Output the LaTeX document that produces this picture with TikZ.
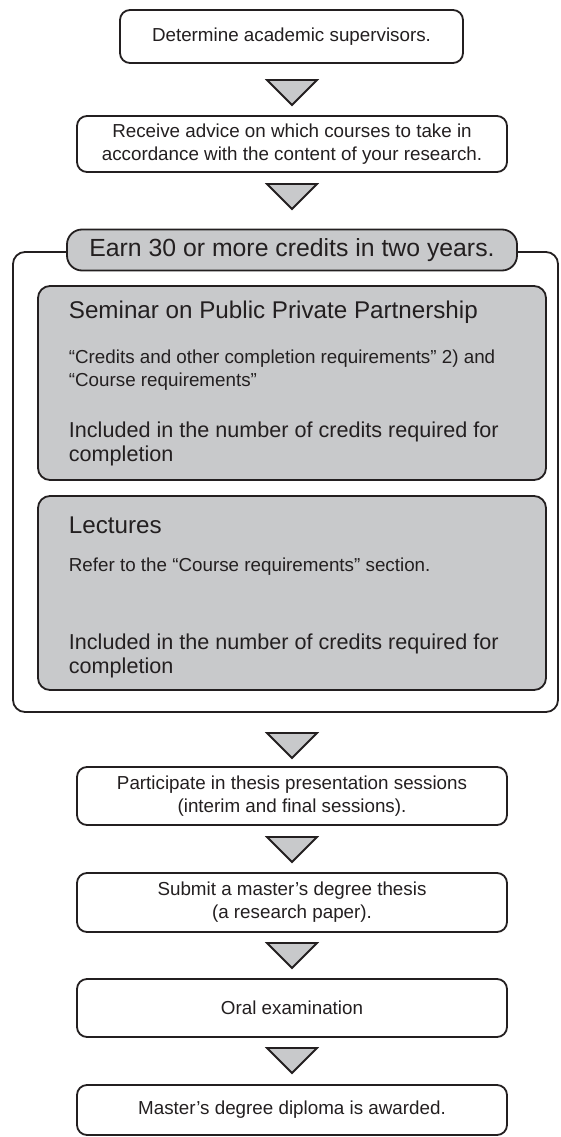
\documentclass[tikz,border=0pt]{standalone}
\usepackage{fontspec}
\setmainfont{Liberation Sans}
\usetikzlibrary{positioning}
\definecolor{boxgray}{HTML}{C8C9CB}
\definecolor{ink}{HTML}{231F20}

\begin{document}
\begin{tikzpicture}[x=1pt,y=-1pt,line width=1.8pt,draw=ink,text=ink]
\tikzstyle{stage}=[draw,rounded corners=10pt,fill=white,minimum width=430pt,minimum height=58pt,align=center,font=\fontsize{18.8}{23}\selectfont]
\tikzstyle{block}=[draw,rounded corners=12pt,fill=boxgray,minimum width=508pt,minimum height=194pt]
\tikzstyle{head}=[anchor=base west,inner sep=0pt,font=\fontsize{24.2}{27}\selectfont]
\tikzstyle{note}=[anchor=base west,inner sep=0pt,align=left,font=\fontsize{18.8}{23}\selectfont]
\tikzstyle{sum}=[anchor=base west,inner sep=0pt,align=left,font=\fontsize{21.6}{24.5}\selectfont]
\tikzstyle{tri}=[draw,fill=boxgray,line join=miter]
\useasboundingbox (0,0) rectangle (560,1137);

% top steps
\node [stage,minimum width=343pt,minimum height=53pt] (supervisors) at (291.5,36.5) {Determine academic supervisors.};
\node [stage,minimum height=56pt] (advice) at (292,144) {Receive advice on which courses to take in\\accordance with the content of your research.};

% credits frame
\node [draw,rounded corners=12pt,minimum width=545pt,minimum height=460pt] (frame) at (285.5,482) {};
\node [draw,rounded corners=15pt,fill=boxgray,minimum width=450pt,minimum height=41pt,font=\fontsize{24.8}{28}\selectfont] (earn) at (292,250) {Earn 30 or more credits in two years.};
\node [block] (seminar) at (292,383) {};
\node [block] (lectures) at (292,593) {};
\node [head] (semhead) at (68,318.5) {Seminar on Public Private Partnership};
\node [note] (semreq) at (68,386.6) {“Credits and other completion requirements” 2) and\\“Course requirements”};
\node [sum] (semsum) at (68,461.5) {Included in the number of credits required for\\completion};
\node [head] (lechead) at (68,533.5) {Lectures};
\node [note] (lecreq) at (68,571.5) {Refer to the “Course requirements” section.};
\node [sum] (lecsum) at (68,673.5) {Included in the number of credits required for\\completion};

% bottom steps
\node [stage] (sessions) at (292,796) {Participate in thesis presentation sessions\\(interim and final sessions).};
\node [stage,minimum height=59pt] (thesis) at (292,902.5) {Submit a master's degree thesis\\(a research paper).};
\node [stage] (oral) at (292,1008) {Oral examination};
\node [stage,minimum height=50pt] (diploma) at (292,1110) {Master's degree diploma is awarded.};

% down triangles
\coordinate (t1) at (292,80);
\coordinate (t2) at (292,184);
\coordinate (t3) at (292,733);
\coordinate (t4) at (292,837);
\coordinate (t5) at (292,943);
\coordinate (t6) at (292,1048);
\foreach \t in {t1,t2,t3,t4,t5,t6}
  \draw [tri] (\t) ++(-25,0) -- ++(50,0) -- ++(-25,25) -- cycle;
\end{tikzpicture}
\end{document}
